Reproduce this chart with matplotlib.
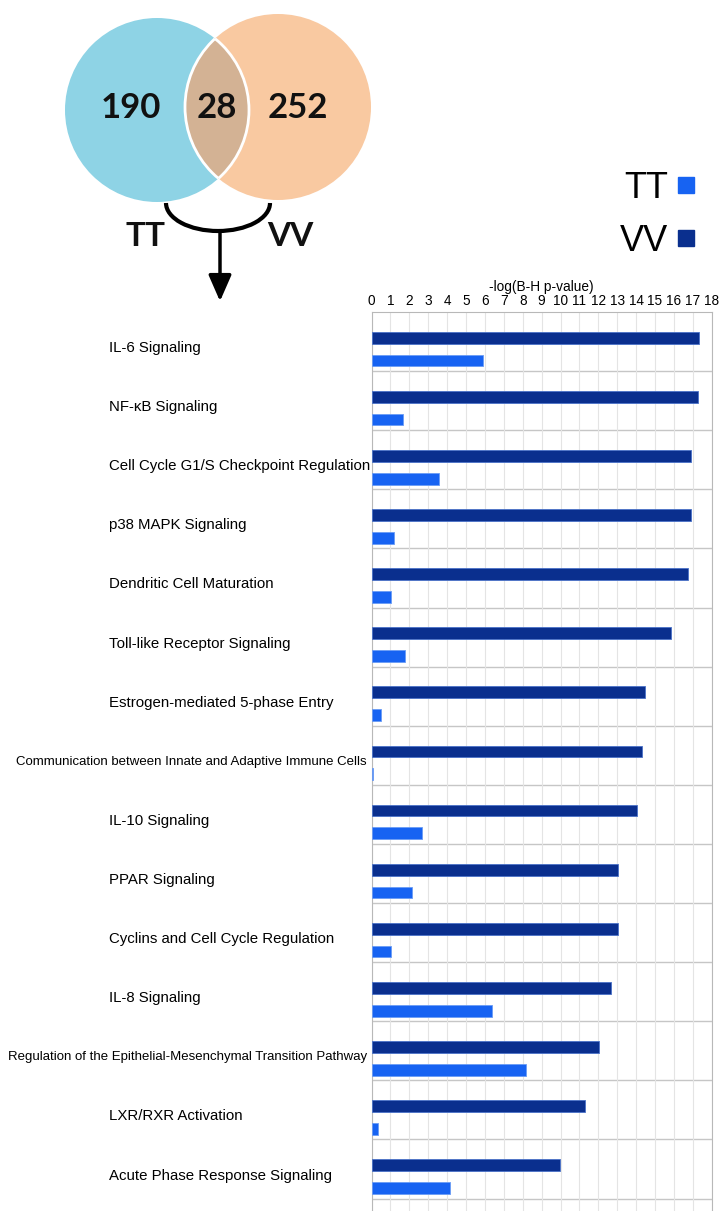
import numpy as np
import matplotlib.pyplot as plt
from matplotlib.patches import Circle, Arc
from matplotlib.lines import Line2D
import matplotlib.transforms as mtransforms

# data
pathways = ['IL-6 Signaling', 'NF-\u03baB Signaling', 'Cell Cycle G1/S Checkpoint Regulation',
            'p38 MAPK Signaling', 'Dendritic Cell Maturation', 'Toll-like Receptor Signaling',
            'Estrogen-mediated 5-phase Entry', 'Communication between Innate and Adaptive Immune Cells',
            'IL-10 Signaling', 'PPAR Signaling', 'Cyclins and Cell Cycle Regulation', 'IL-8 Signaling',
            'Regulation of the Epithelial-Mesenchymal Transition Pathway', 'LXR/RXR Activation',
            'Acute Phase Response Signaling']
vv = [17.35, 17.3, 16.9, 16.9, 16.75, 15.85, 14.45, 14.3, 14.05, 13.05, 13.05, 12.65, 12.05, 11.3, 9.95]
tt = [5.9, 1.65, 3.55, 1.2, 1.05, 1.75, 0.5, 0.1, 2.65, 2.15, 1.05, 6.35, 8.2, 0.35, 4.15]
xticks = list(range(0, 19))
venn_counts = [190, 28, 252]
venn_sets = ['TT', 'VV']

c_vv = '#0a2f8e'
c_tt = '#1763f2'

W, H = 720, 1211
fig = plt.figure(figsize=(W / 100, H / 100), dpi=100)
plt.rcParams['font.family'] = ['Liberation Sans', 'DejaVu Sans']


def box(x0, y0, x1, y1):
    # pixel box -> figure fraction rect
    return [x0 / W, 1 - y1 / H, (x1 - x0) / W, (y1 - y0) / H]


# ---- Venn diagram and arrow, drawn in pixel space ----
av = fig.add_axes([0, 0, 1, 1])
av.set_xlim(0, W)
av.set_ylim(H, 0)
av.axis('off')

left = Circle((157, 110), 92, fc='#8ed3e5', ec='none')
right = Circle((278, 107), 93, fc='#f9c9a1', ec='none')
av.add_patch(left)
av.add_patch(right)
ov = Circle((278, 107), 93, fc='#d3b294', ec='white', lw=2)
av.add_patch(ov)
ov.set_clip_path(left)
edge = Circle((157, 110), 92, fc='none', ec='white', lw=2)
av.add_patch(edge)
edge.set_clip_path(right)

for (x, yy), n in zip([(131, 108), (217, 108), (298, 108)], venn_counts):
    av.text(x, yy, str(n), ha='center', va='center', fontsize=25, fontweight='bold',
            family='Lato', color='#111111')
for (x, yy), s in zip([(145, 236), (290, 237)], venn_sets):
    av.text(x, yy, s, ha='center', va='center', fontsize=24, fontweight='bold',
            family='Lato', color='#111111')

av.add_patch(Arc((218, 203), 104, 56, theta1=0, theta2=180, lw=3, color='black'))
av.annotate('', xy=(220, 304), xytext=(220, 229),
            arrowprops=dict(arrowstyle='-|>,head_width=0.35,head_length=0.8',
                            lw=2.5, color='black', mutation_scale=20))

# ---- bar chart ----
ax = fig.add_axes(box(371.5, 312, 711.7, 1211))
n = len(pathways)
y = np.arange(n)
ax.barh(y + 0.435, vv, height=0.2, color=c_vv, edgecolor='#4a72c8', lw=0.6, zorder=3)
ax.barh(y + 0.82, tt, height=0.2, color=c_tt, edgecolor='#6a9cf5', lw=0.6, zorder=3)
ax.set_xlim(0, 18)
ax.set_ylim(n + 0.21, 0)
ax.xaxis.tick_top()
ax.xaxis.set_label_position('top')
ax.set_xticks(xticks)
ax.tick_params(axis='x', length=0, pad=3, labelsize=9.8)
ax.set_yticks([])
ax.set_xlabel('-log(B-H p-value)', fontsize=9.8, labelpad=2)
ax.grid(axis='x', color='#e4e4e4', lw=0.8, zorder=0)
for k in range(1, n + 1):
    ax.axhline(k, color='#c6c6c6', lw=1, zorder=1)
for s in ['top', 'left', 'right']:
    ax.spines[s].set_color('#b8b8b8')
ax.spines['bottom'].set_visible(False)

# category labels: short ones start at a fixed x, long ones squeezed against the axis
tr = mtransforms.blended_transform_factory(fig.transFigure, ax.transData)
for i, lab in enumerate(pathways):
    if len(lab) > 40:
        ax.text(367 / W, i + 0.61, lab, transform=tr, ha='right', va='center', fontsize=9.5)
    else:
        ax.text(109 / W, i + 0.61, lab, transform=tr, ha='left', va='center', fontsize=10.8)

# legend
handles = [Line2D([], [], ls='none', marker='s', ms=11, color=c) for c in (c_tt, c_vv)]
fig.legend(handles, venn_sets, loc='upper right', bbox_to_anchor=(713 / W, 1 - 153 / H),
           markerfirst=False, frameon=False, fontsize=26, handlelength=0.5,
           handletextpad=0.25, labelspacing=0.5, borderpad=0)

fig.savefig('out.png', dpi=100)
